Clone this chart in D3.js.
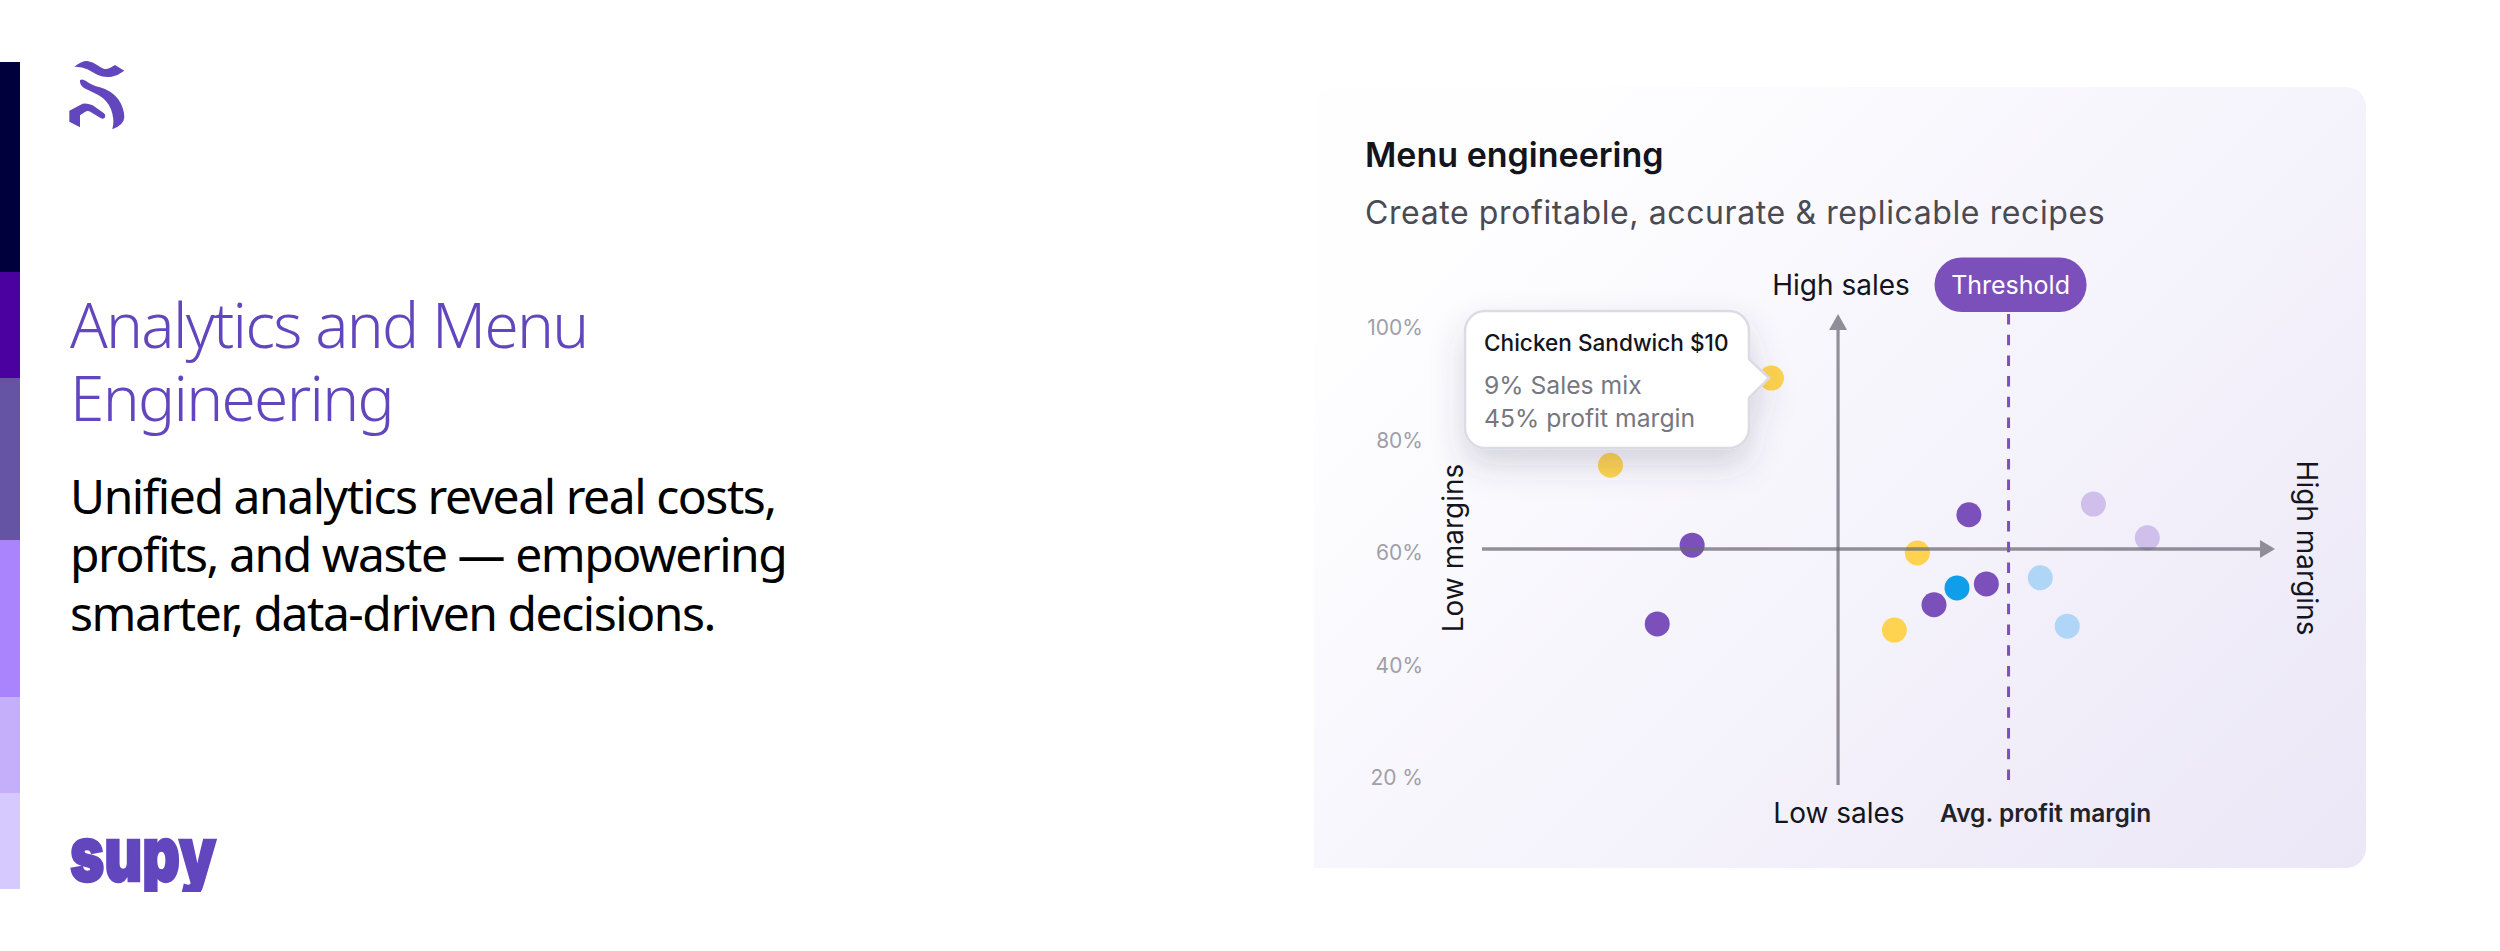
<!DOCTYPE html>
<html>
<head>
<meta charset="utf-8">
<script src="https://cdnjs.cloudflare.com/ajax/libs/d3/7.8.5/d3.min.js"></script>
<style>
  html, body { margin: 0; background: #fff; }
  svg { display: block; }
  text { font-family: Inter, sans-serif; }
  .left { font-family: "Noto Sans", sans-serif; }
</style>
</head>
<body>
<svg id="chart" width="2500" height="951"></svg>
<script>
// Chart values
const yTicks = [20, 40, 60, 80, 100];
const yTickLabels = ['20 %', '40%', '60%', '80%', '100%'];

const groups = ['yellow', 'purple', 'blue', 'lilac', 'sky'];
const groupColors = ['#ffd34f', '#7b50bb', '#0f9eea', '#cfbfea', '#afd6f6'];

const yellowSales = [36.5, 16.2, 54.9, 52];
const yellowMargin = [91.1, 75.6, 60, 46.3];
const purpleSales = [26.5, 22.1, 61.4, 63.6, 57];
const purpleMargin = [61.4, 47.4, 66.8, 54.5, 50.8];
const blueSales = [59.9];
const blueMargin = [53.8];
const lilacSales = [77.1, 83.9];
const lilacMargin = [68.7, 62.7];
const skySales = [70.4, 73.8];
const skyMargin = [55.6, 47];

const avgSales = 44.9;
const avgMargin = 60.7;
const threshold = 66.4;

const heading = ['Analytics and Menu', 'Engineering'];
const body = [
  'Unified analytics reveal real costs,',
  'profits, and waste — empowering',
  'smarter, data-driven decisions.',
];
const tooltipLines = ['9% Sales mix', '45% profit margin'];

// Left colour strip: [top, bottom, colour]
const strip = [
  [62, 272, '#00003d'],
  [272, 378, '#4b00a0'],
  [378, 540, '#6554a3'],
  [540, 697, '#a984fc'],
  [697, 793, '#c5aefa'],
  [793, 889, '#d6c9fd'],
];

const svg = d3.select('#chart');
const defs = svg.append('defs');

const grad = defs.append('linearGradient')
  .attr('id', 'panel')
  .attr('gradientUnits', 'userSpaceOnUse')
  .attr('x1', 1493).attr('y1', 170)
  .attr('x2', 2273).attr('y2', 950);
grad.append('stop').attr('offset', 0).attr('stop-color', '#fefeff');
grad.append('stop').attr('offset', 1).attr('stop-color', '#ebe7f7');

const shadow = defs.append('filter')
  .attr('id', 'shadow')
  .attr('x', '-30%').attr('y', '-30%')
  .attr('width', '160%').attr('height', '170%');
shadow.append('feDropShadow')
  .attr('dx', 0).attr('dy', 16)
  .attr('stdDeviation', 16)
  .attr('flood-color', '#4a4468')
  .attr('flood-opacity', 0.2);

// The wordmark has a short descender
defs.append('clipPath')
  .attr('id', 'wordmark')
  .append('rect')
  .attr('x', 60).attr('y', 820)
  .attr('width', 180).attr('height', 72);

// Left side
svg.selectAll('rect.strip')
  .data(strip)
  .join('rect')
  .attr('class', 'strip')
  .attr('x', 0).attr('width', 20)
  .attr('y', (d) => d[0])
  .attr('height', (d) => d[1] - d[0])
  .attr('fill', (d) => d[2]);

const mark = svg.append('g')
  .attr('transform', 'translate(0,40) scale(0.3333)')
  .attr('fill', '#6246be');
mark.append('path').attr('d', 'M223 80 Q245 62 262 63 Q278 65 295 77 Q310 88 320 87 Q332 84 345 75 L373 92 Q355 106 335 110 Q312 114 292 104 L262 88 Q245 79 223 80Z');
mark.append('path').attr('d', 'M240 121 Q246 115 258 123 Q275 136 300 142 Q335 152 355 178 Q373 205 373 232 Q372 255 337 268 Q345 240 333 208 Q322 180 295 165 L252 144 Q238 134 240 121Z');
mark.append('path').attr('d', 'M208 212 L248 191 Q262 189 278 196 L312 220 Q319 228 313 235 Q306 238 298 232 L272 216 Q264 211 256 215 L240 226 L240 262 L208 245Z');

svg.selectAll('text.heading')
  .data(heading)
  .join('text')
  .attr('class', 'heading left')
  .attr('x', 70)
  .attr('y', (d, i) => 348 + i * 73)
  .attr('font-size', 62)
  .attr('font-weight', 300)
  .attr('letter-spacing', -1.65)
  .attr('fill', '#6246be')
  .text((d) => d);

svg.selectAll('text.body')
  .data(body)
  .join('text')
  .attr('class', 'body left')
  .attr('x', 70)
  .attr('y', (d, i) => 514 + i * 58.3)
  .attr('font-size', 48)
  .attr('letter-spacing', -1.45)
  .attr('fill', '#000')
  .text((d) => d);

svg.append('text')
  .attr('x', 70).attr('y', 881)
  .attr('font-size', 76)
  .attr('font-weight', 900)
  .attr('textLength', 146)
  .attr('lengthAdjust', 'spacingAndGlyphs')
  .attr('fill', '#6246be')
  .attr('stroke', '#6246be')
  .attr('stroke-width', 2.5)
  .attr('clip-path', 'url(#wordmark)')
  .text('supy');

// Panel, square at the bottom left corner
svg.append('path')
  .attr('d', 'M1334 87 H2346 a20 20 0 0 1 20 20 V848 a20 20 0 0 1 -20 20 H1314 V107 a20 20 0 0 1 20 -20Z')
  .attr('fill', 'url(#panel)');

svg.append('text')
  .attr('x', 1365).attr('y', 167)
  .attr('font-size', 34).attr('font-weight', 600)
  .attr('fill', '#14141c')
  .text('Menu engineering');

svg.append('text')
  .attr('x', 1365).attr('y', 224)
  .attr('font-size', 32)
  .attr('letter-spacing', 0.6)
  .attr('fill', '#4a4a52')
  .text('Create profitable, accurate & replicable recipes');

// Scales
const x = d3.scaleLinear().domain([0, 100]).range([1482, 2275]);
const y = d3.scaleLinear().domain([20, 100]).range([778, 328]);

const yAxis = d3.axisLeft(y)
  .tickValues(yTicks)
  .tickSize(0)
  .tickPadding(0)
  .tickFormat((d) => yTickLabels[yTicks.indexOf(d)]);

svg.append('g')
  .attr('transform', 'translate(1423,0)')
  .call(yAxis)
  .call((g) => g.select('.domain').remove())
  .call((g) => g.selectAll('text')
    .attr('font-family', 'Inter, sans-serif')
    .attr('font-size', 21)
    .attr('fill', '#a09fa8'));

// Points
const series = [
  [yellowSales, yellowMargin],
  [purpleSales, purpleMargin],
  [blueSales, blueMargin],
  [lilacSales, lilacMargin],
  [skySales, skyMargin],
];
const points = series.flatMap(([sales, margin], g) =>
  sales.map((s, i) => ({ sales: s, margin: margin[i], group: groups[g] })));

const color = d3.scaleOrdinal().domain(groups).range(groupColors);

svg.append('g')
  .selectAll('circle')
  .data(points)
  .join('circle')
  .attr('cx', (d) => x(d.sales))
  .attr('cy', (d) => y(d.margin))
  .attr('r', 12.5)
  .attr('fill', (d) => color(d.group));

// Quadrant axes
const axisColor = 'rgba(105,103,115,0.72)';
const xAvg = x(avgSales);
const yAvg = y(avgMargin);
const [xLo, xHi] = x.range();

svg.append('line')
  .attr('x1', xAvg).attr('x2', xAvg)
  .attr('y1', 326).attr('y2', 785)
  .attr('stroke', axisColor).attr('stroke-width', 3.2);
svg.append('line')
  .attr('x1', xLo).attr('x2', xHi - 14)
  .attr('y1', yAvg).attr('y2', yAvg)
  .attr('stroke', axisColor).attr('stroke-width', 3.4);

svg.append('path')
  .attr('d', d3.line()([[xAvg, 314], [xAvg + 9, 330], [xAvg - 9, 330]]) + 'Z')
  .attr('fill', '#8f8d97');
svg.append('path')
  .attr('d', d3.line()([[xHi, yAvg], [xHi - 15, yAvg - 9], [xHi - 15, yAvg + 9]]) + 'Z')
  .attr('fill', '#8f8d97');

svg.append('line')
  .attr('x1', x(threshold)).attr('x2', x(threshold))
  .attr('y1', 314).attr('y2', 785)
  .attr('stroke', '#7b50bb')
  .attr('stroke-width', 3)
  .attr('stroke-dasharray', '10.5 10.2');

// Threshold pill
svg.append('rect')
  .attr('x', x(threshold) - 74).attr('y', 257.5)
  .attr('width', 152).attr('height', 54.5)
  .attr('rx', 27)
  .attr('fill', '#7b50bb');
svg.append('text')
  .attr('x', x(threshold) + 2).attr('y', 294)
  .attr('text-anchor', 'middle')
  .attr('font-size', 25)
  .attr('fill', '#fff')
  .text('Threshold');

// Axis names
svg.append('text')
  .attr('x', 1841).attr('y', 295)
  .attr('text-anchor', 'middle')
  .attr('font-size', 28).attr('fill', '#14141c')
  .text('High sales');
svg.append('text')
  .attr('x', 1839).attr('y', 823)
  .attr('text-anchor', 'middle')
  .attr('font-size', 28).attr('fill', '#14141c')
  .text('Low sales');
svg.append('text')
  .attr('x', 1940).attr('y', 822)
  .attr('font-size', 24.5).attr('font-weight', 600)
  .attr('fill', '#22222a')
  .text('Avg. profit margin');
svg.append('text')
  .attr('transform', 'translate(1463,548) rotate(-90)')
  .attr('text-anchor', 'middle')
  .attr('font-size', 28).attr('fill', '#14141c')
  .text('Low margins');
svg.append('text')
  .attr('transform', 'translate(2297,548) rotate(90)')
  .attr('text-anchor', 'middle')
  .attr('font-size', 28).attr('fill', '#14141c')
  .text('High margins');

// Tooltip
const tip = svg.append('g');
tip.append('path')
  .attr('d', 'M1485 311 H1729 a20 20 0 0 1 20 20 V359 L1769 378 L1749 398 V428 a20 20 0 0 1 -20 20 H1485 a20 20 0 0 1 -20 -20 V331 a20 20 0 0 1 20 -20Z')
  .attr('fill', '#fff')
  .attr('stroke', '#dcdbe3')
  .attr('stroke-width', 2.5)
  .attr('stroke-linejoin', 'round')
  .attr('filter', 'url(#shadow)');
tip.append('text')
  .attr('x', 1484).attr('y', 351)
  .attr('font-size', 22.6).attr('font-weight', 500)
  .attr('fill', '#14141c')
  .text('Chicken Sandwich $10');
tip.selectAll('text.line')
  .data(tooltipLines)
  .join('text')
  .attr('class', 'line')
  .attr('x', 1484)
  .attr('y', (d, i) => 394 + i * 33)
  .attr('font-size', 24.7)
  .attr('fill', '#77777f')
  .text((d) => d);
</script>
</body>
</html>
